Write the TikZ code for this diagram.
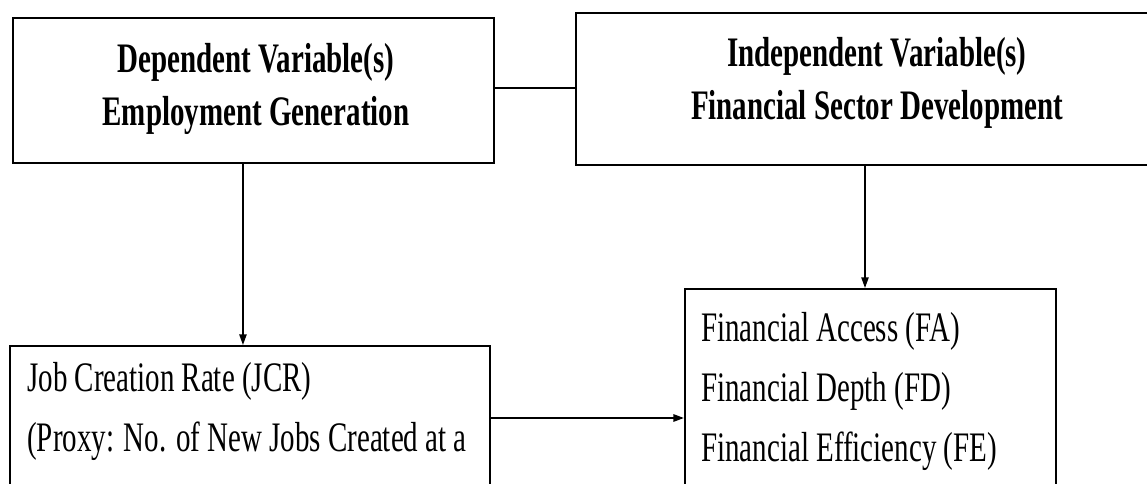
\documentclass[tikz,border=0pt]{standalone}
\usepackage{fontspec}
\setmainfont{Liberation Serif}[FakeStretch=0.69]
\usetikzlibrary{arrows.meta,fit}
\begin{document}
\begin{tikzpicture}[x=0.75pt,y=-0.75pt,
  box/.style={draw=black,line width=1.5pt,inner sep=0pt},
  head/.style={font=\bfseries\fontsize{31.5pt}{39.75pt}\selectfont,align=center,inner sep=0pt},
  item/.style={font=\fontsize{31.5pt}{45pt}\selectfont,align=left,inner sep=0pt,anchor=west},
  link/.style={line width=1.5pt},
  arr/.style={line width=1.5pt,-{Triangle[length=8pt,width=5.5pt]}},
  varr/.style={line width=1.1pt,-{Triangle[length=8pt,width=5.5pt]}}]
\path[use as bounding box,clip] (0,0) rectangle (1147,484);
\fill[white] (0,0) rectangle (1147,484);
\node[box,fit={(13,18) (494,163)}] (A) {};
\node[box,fit={(576,13) (1178,165)}] (B) {};
\node[box,fit={(10,346) (490,490)}] (C) {};
\node[box,fit={(685,289) (1056,547)}] (D) {};
\node[head] (tA) at (256,89) {Dependent Variable(s)\\Employment Generation};
\node[head] (tB) at (877,83) {Independent Variable(s)\\Financial Sector Development};
\node[item] (tC) at (27,411) {Job Creation Rate (JCR)\\(Proxy: No. of New Jobs Created at a};
\node[item] (tD) at (701,391) {Financial Access (FA)\\Financial Depth (FD)\\Financial Efficiency (FE)};
\draw[link] ([yshift=1.9pt]A.east) -- ([yshift=1.9pt]A.east -| B.west);
\draw[varr] ([xshift=-7.9pt]A.south) -- ([xshift=-7.9pt]A.south |- C.north);
\draw[varr] ([xshift=-9pt]B.south) -- ([xshift=-9pt]B.south |- D.north);
\draw[arr] (C.east) -- (C.east -| D.west);
\end{tikzpicture}
\end{document}
